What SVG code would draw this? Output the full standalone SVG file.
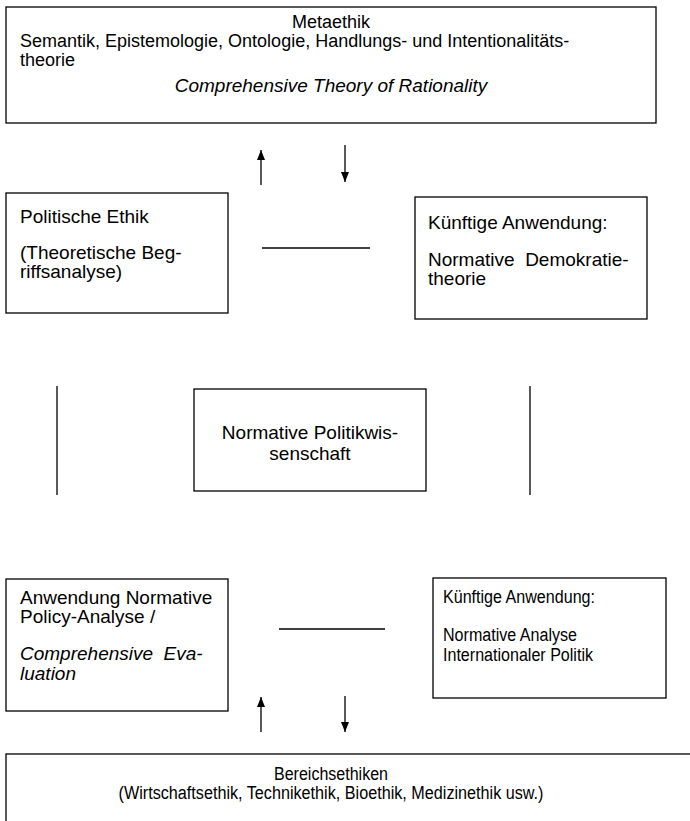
<svg xmlns="http://www.w3.org/2000/svg" width="690" height="821" viewBox="0 0 690 821">
<defs>
<marker id="ah" viewBox="0 0 10 8" refX="10" refY="4" markerWidth="10" markerHeight="8" markerUnits="userSpaceOnUse" orient="auto">
<path d="M0,0 L10,4 L0,8 z" fill="#000"/>
</marker>
<style>
.box{fill:#fff;stroke:#000;stroke-width:1.3}
.t{font-family:"Liberation Sans",Arial,sans-serif;font-size:16px;fill:#000}
.m{font-size:18px}
.l{font-size:19px}
.i{font-style:italic}
.c{text-anchor:middle}
.ln{stroke:#000;stroke-width:1.3;fill:none}
</style>
</defs>
<rect width="690" height="821" fill="#fff"/>
<g id="connectors">
<line class="ln" x1="261" y1="185" x2="261" y2="150" marker-end="url(#ah)"/>
<line class="ln" x1="345" y1="145" x2="345" y2="182" marker-end="url(#ah)"/>
<line class="ln" x1="262" y1="248" x2="370" y2="248"/>
<line class="ln" x1="57" y1="386" x2="57" y2="495"/>
<line class="ln" x1="530" y1="386" x2="530" y2="495"/>
<line class="ln" x1="279" y1="629" x2="385" y2="629"/>
<line class="ln" x1="261" y1="732" x2="261" y2="697" marker-end="url(#ah)"/>
<line class="ln" x1="345" y1="696" x2="345" y2="732" marker-end="url(#ah)"/>
</g>
<g id="metaethik">
<rect class="box" x="6" y="7" width="650" height="116"/>
<text class="t m c" x="331" y="28">Metaethik</text>
<text class="t m" x="20" y="47">Semantik, Epistemologie, Ontologie, Handlungs- und Intentionalitäts-</text>
<text class="t m" x="20" y="66">theorie</text>
<text class="t l c i" x="331" y="92">Comprehensive Theory of Rationality</text>
</g>
<g id="politische-ethik">
<rect class="box" x="6" y="193" width="222" height="120"/>
<text class="t l" x="20" y="223">Politische Ethik</text>
<text class="t l" x="20" y="259">(Theoretische Beg-</text>
<text class="t l" x="20" y="278">riffsanalyse)</text>
</g>
<g id="demokratietheorie">
<rect class="box" x="415" y="197" width="232" height="122"/>
<text class="t l" x="428" y="229">Künftige Anwendung:</text>
<text class="t l" x="428" y="266" xml:space="preserve">Normative  Demokratie-</text>
<text class="t l" x="428" y="285">theorie</text>
</g>
<g id="politikwissenschaft">
<rect class="box" x="194" y="389" width="232" height="102"/>
<text class="t l c" x="310" y="439">Normative Politikwis-</text>
<text class="t l c" x="310" y="460">senschaft</text>
</g>
<g id="policy-analyse">
<rect class="box" x="6" y="579" width="222" height="132"/>
<text class="t l" x="20" y="604">Anwendung Normative</text>
<text class="t l" x="20" y="623">Policy-Analyse /</text>
<text class="t l i" x="20" y="660" xml:space="preserve">Comprehensive  Eva-</text>
<text class="t l i" x="20" y="680">luation</text>
</g>
<g id="internationale-politik">
<rect class="box" x="433" y="578" width="233" height="120"/>
<text class="t m" x="443" y="603" textLength="152" lengthAdjust="spacingAndGlyphs">Künftige Anwendung:</text>
<text class="t m" x="443" y="641" textLength="134" lengthAdjust="spacingAndGlyphs">Normative Analyse</text>
<text class="t m" x="443" y="661" textLength="150" lengthAdjust="spacingAndGlyphs">Internationaler Politik</text>
</g>
<g id="bereichsethiken">
<rect class="box" x="6" y="754" width="700" height="80"/>
<text class="t m c" x="331" y="780" textLength="114" lengthAdjust="spacingAndGlyphs">Bereichsethiken</text>
<text class="t m c" x="331" y="799" textLength="425" lengthAdjust="spacingAndGlyphs">(Wirtschaftsethik, Technikethik, Bioethik, Medizinethik usw.)</text>
</g>
</svg>
